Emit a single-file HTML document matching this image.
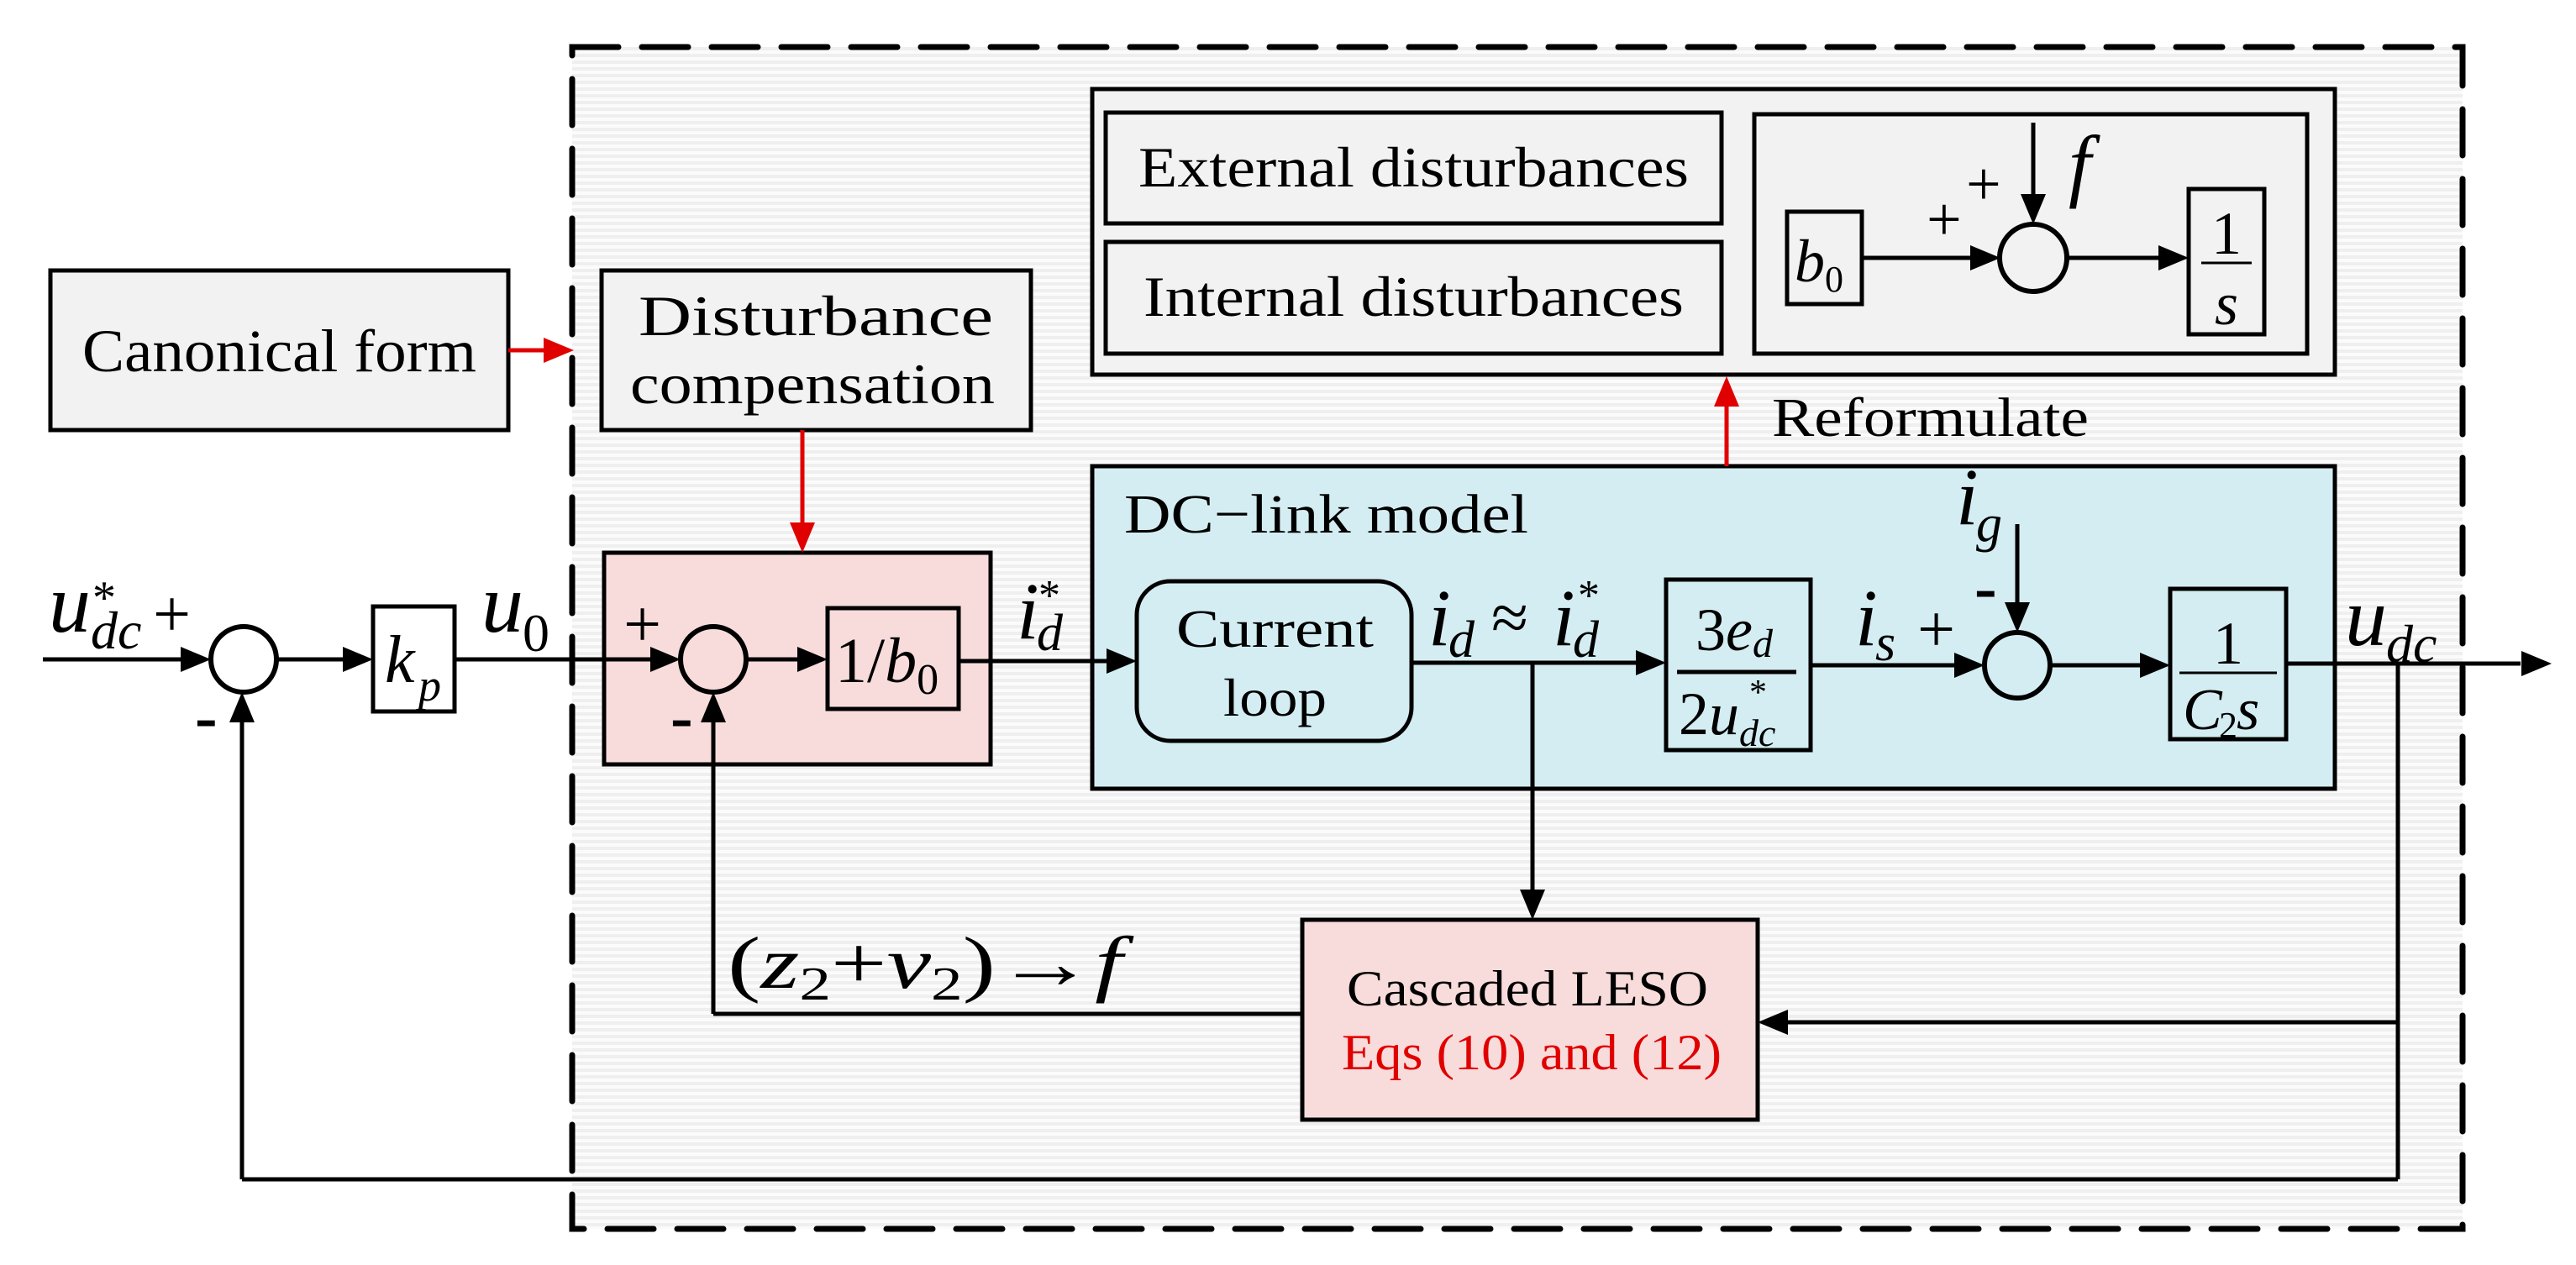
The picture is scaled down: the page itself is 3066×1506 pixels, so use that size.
<!DOCTYPE html>
<html><head><meta charset="utf-8"><style>
html,body{margin:0;padding:0;background:#fff}
svg{display:block}
text{font-family:"Liberation Serif",serif;fill:#000}
.it{font-style:italic}
</style></head><body>
<svg width="3066" height="1506" viewBox="0 0 3066 1506" xmlns="http://www.w3.org/2000/svg">
<defs>
<pattern id="st" width="8" height="8" patternUnits="userSpaceOnUse">
<rect width="8" height="8" fill="#fbfbfb"/><rect width="8" height="4" fill="#efefef"/>
</pattern>
</defs>
<rect x="681" y="56" width="2250" height="1407" fill="url(#st)" stroke="none"/>
<rect x="681" y="56" width="2250" height="1407" fill="none" stroke="#000" stroke-width="7" stroke-dasharray="55 28" stroke-linecap="round"/>

<g stroke="#000" stroke-width="5" fill="none">
<rect x="60" y="322" width="545" height="190" fill="#f2f2f2"/>
<rect x="716" y="322" width="511" height="190" fill="#f2f2f2"/>
<rect x="719" y="658" width="460" height="252" fill="#f8dcdb"/>
<rect x="1300" y="106" width="1479" height="340" fill="#f2f2f2"/>
<rect x="1316" y="134" width="733" height="132" fill="#f2f2f2"/>
<rect x="1316" y="288" width="733" height="133" fill="#f2f2f2"/>
<rect x="2088" y="136" width="658" height="285" fill="#f2f2f2"/>
<rect x="2127" y="252" width="89" height="110" fill="#f2f2f2"/>
<rect x="2605" y="225" width="90" height="173" fill="#f2f2f2"/>
<line x1="2620" y1="313" x2="2680" y2="313" stroke-width="3"/>
<circle cx="2420" cy="307" r="40" fill="#f2f2f2" stroke-width="6"/>
<line x1="2216" y1="307" x2="2350" y2="307"/>
<line x1="2460" y1="307" x2="2570" y2="307"/>
<line x1="2420" y1="146" x2="2420" y2="235"/>
<rect x="1300" y="555" width="1479" height="384" fill="#d4edf2"/>
<rect x="1353" y="692" width="327" height="190" rx="40" fill="#d4edf2"/>
<rect x="1983" y="690" width="172" height="203" fill="#d4edf2"/>
<line x1="1996" y1="800" x2="2138" y2="800"/>
<rect x="2583" y="701" width="138" height="179" fill="#d4edf2"/>
<line x1="2594" y1="801" x2="2710" y2="801" stroke-width="3"/>
<circle cx="2401" cy="792" r="39" fill="#d4edf2" stroke-width="6"/>
<rect x="1550" y="1095" width="542" height="238" fill="#f8dcdb"/>
<circle cx="290" cy="785" r="39" fill="#fff" stroke-width="6"/>
<rect x="444" y="722" width="97" height="125" fill="#fff"/>
<circle cx="849" cy="785" r="39" fill="#f8dcdb" stroke-width="6"/>
<rect x="985" y="724" width="156" height="120" fill="#f8dcdb"/>
<line x1="51" y1="785" x2="220" y2="785"/>
<line x1="329" y1="785" x2="410" y2="785"/>
<line x1="541" y1="785" x2="775" y2="785"/>
<line x1="888" y1="785" x2="950" y2="785"/>
<line x1="1141" y1="787" x2="1318" y2="787"/>
<line x1="1680" y1="789" x2="1950" y2="789"/>
<line x1="1824" y1="789" x2="1824" y2="1060"/>
<line x1="2155" y1="792" x2="2328" y2="792"/>
<line x1="2440" y1="792" x2="2548" y2="792"/>
<line x1="2401" y1="624" x2="2401" y2="720"/>
<line x1="2721" y1="790" x2="3000" y2="790"/>
<line x1="2854" y1="790" x2="2854" y2="1404"/>
<line x1="2854" y1="1217" x2="2128" y2="1217"/>
<line x1="2854" y1="1404" x2="288" y2="1404"/>
<line x1="288" y1="1404" x2="288" y2="860"/>
<line x1="1550" y1="1207" x2="849" y2="1207"/>
<line x1="849" y1="1207" x2="849" y2="860"/>
</g>
<g stroke="#e00000" stroke-width="5">
<line x1="605" y1="417" x2="650" y2="417"/>
<line x1="955" y1="512" x2="955" y2="625"/>
<line x1="2055" y1="555" x2="2055" y2="480"/>
</g>
<g fill="#e00000">
<polygon points="683,417 647,402 647,432"/>
<polygon points="955,658 940,622 970,622"/>
<polygon points="2055,448 2040,484 2070,484"/>
</g>
<g fill="#000">
<polygon points="251,785 215,770 215,800"/>
<polygon points="444,785 408,770 408,800"/>
<polygon points="810,785 774,770 774,800"/>
<polygon points="985,785 949,770 949,800"/>
<polygon points="1353,787 1317,772 1317,802"/>
<polygon points="1983,789 1947,774 1947,804"/>
<polygon points="2362,792 2326,777 2326,807"/>
<polygon points="2583,792 2547,777 2547,807"/>
<polygon points="3037,790 3001,775 3001,805"/>
<polygon points="2401,753 2386,717 2416,717"/>
<polygon points="1824,1095 1809,1059 1839,1059"/>
<polygon points="2092,1217 2128,1202 2128,1232"/>
<polygon points="288,824 273,860 303,860"/>
<polygon points="849,824 834,860 864,860"/>
<polygon points="2381,307 2345,292 2345,322"/>
<polygon points="2605,307 2569,292 2569,322"/>
<polygon points="2420,267 2405,231 2435,231"/>
</g>
<text x="98" y="442" font-size="72" textLength="469" lengthAdjust="spacingAndGlyphs">Canonical form</text>
<text x="760" y="399" font-size="68" textLength="422" lengthAdjust="spacingAndGlyphs">Disturbance</text>
<text x="750" y="480" font-size="68" textLength="434" lengthAdjust="spacingAndGlyphs">compensation</text>
<text x="1355" y="222" font-size="68" textLength="655" lengthAdjust="spacingAndGlyphs">External disturbances</text>
<text x="1361" y="376" font-size="68" textLength="643" lengthAdjust="spacingAndGlyphs">Internal disturbances</text>
<text x="2109" y="519" font-size="66" textLength="377" lengthAdjust="spacingAndGlyphs">Reformulate</text>
<text x="1338" y="634" font-size="66" textLength="481" lengthAdjust="spacingAndGlyphs">DC−link model</text>
<text x="1400" y="770" font-size="64" textLength="235" lengthAdjust="spacingAndGlyphs">Current</text>
<text x="1456" y="852" font-size="64" textLength="123" lengthAdjust="spacingAndGlyphs">loop</text>
<text x="1603" y="1197" font-size="60" textLength="430" lengthAdjust="spacingAndGlyphs">Cascaded LESO</text>
<text x="1597" y="1273" font-size="60" textLength="452" lengthAdjust="spacingAndGlyphs" style="fill:#e00000">Eqs (10) and (12)</text>

<text x="58" y="752" font-size="100" class="it">u</text>
<text x="108" y="772" font-size="64" class="it">dc</text>
<text x="110" y="730" font-size="56">*</text>
<text x="182" y="758" font-size="80">+</text>
<text x="232" y="880" font-size="80" font-weight="bold">-</text>
<text x="458" y="812" font-size="80" class="it">k</text>
<text x="498" y="834" font-size="54" class="it">p</text>
<text x="573" y="752" font-size="100" class="it">u</text>
<text x="622" y="775" font-size="64">0</text>
<text x="742" y="770" font-size="80">+</text>
<text x="798" y="880" font-size="80" font-weight="bold">-</text>
<text x="994" y="812" font-size="76">1/<tspan class="it">b</tspan><tspan font-size="52" dy="14">0</tspan></text>
<text x="1210" y="760" font-size="96" class="it">i</text>
<text x="1234" y="774" font-size="62" class="it">d</text>
<text x="1236" y="726" font-size="52">*</text>
<text x="1700" y="768" font-size="96" class="it">i</text>
<text x="1724" y="782" font-size="62" class="it">d</text>
<text x="1775" y="762" font-size="80">≈</text>
<text x="1848" y="768" font-size="96" class="it">i</text>
<text x="1872" y="782" font-size="62" class="it">d</text>
<text x="1878" y="726" font-size="52">*</text>
<text x="2018" y="774" font-size="72">3<tspan class="it">e</tspan><tspan class="it" font-size="48" dy="8">d</tspan></text>
<text x="1998" y="874" font-size="72">2<tspan class="it">u</tspan><tspan class="it" font-size="46" dy="14">dc</tspan></text>
<text x="2082" y="838" font-size="42">*</text>
<text x="2208" y="768" font-size="96" class="it">i</text>
<text x="2232" y="786" font-size="62" class="it">s</text>
<text x="2282" y="776" font-size="80">+</text>
<text x="2328" y="624" font-size="96" class="it">i</text>
<text x="2352" y="644" font-size="62" class="it">g</text>
<text x="2350" y="726" font-size="80" font-weight="bold">-</text>
<text x="2652" y="790" font-size="72" text-anchor="middle">1</text>
<text x="2598" y="868" font-size="70" class="it">C</text>
<text x="2641" y="878" font-size="44">2</text>
<text x="2662" y="868" font-size="70" class="it">s</text>
<text x="2791" y="768" font-size="100" class="it">u</text>
<text x="2840" y="788" font-size="64" class="it">dc</text>
<text x="2136" y="335" font-size="72" class="it">b</text>
<text x="2172" y="347" font-size="44">0</text>
<text x="2650" y="302" font-size="72" text-anchor="middle">1</text>
<text x="2650" y="386" font-size="72" text-anchor="middle" class="it">s</text>
<text x="2293" y="286" font-size="74">+</text>
<text x="2340" y="244" font-size="74">+</text>
<text x="2462" y="228" font-size="96" class="it">f</text>
<text x="866" y="1176" font-size="88" textLength="470" lengthAdjust="spacingAndGlyphs">(<tspan class="it">z</tspan><tspan font-size="56" dy="14">2</tspan><tspan dy="-14">+</tspan><tspan class="it">v</tspan><tspan font-size="56" dy="14">2</tspan><tspan dy="-14">)→</tspan><tspan class="it">f</tspan></text>
</svg>
</body></html>
